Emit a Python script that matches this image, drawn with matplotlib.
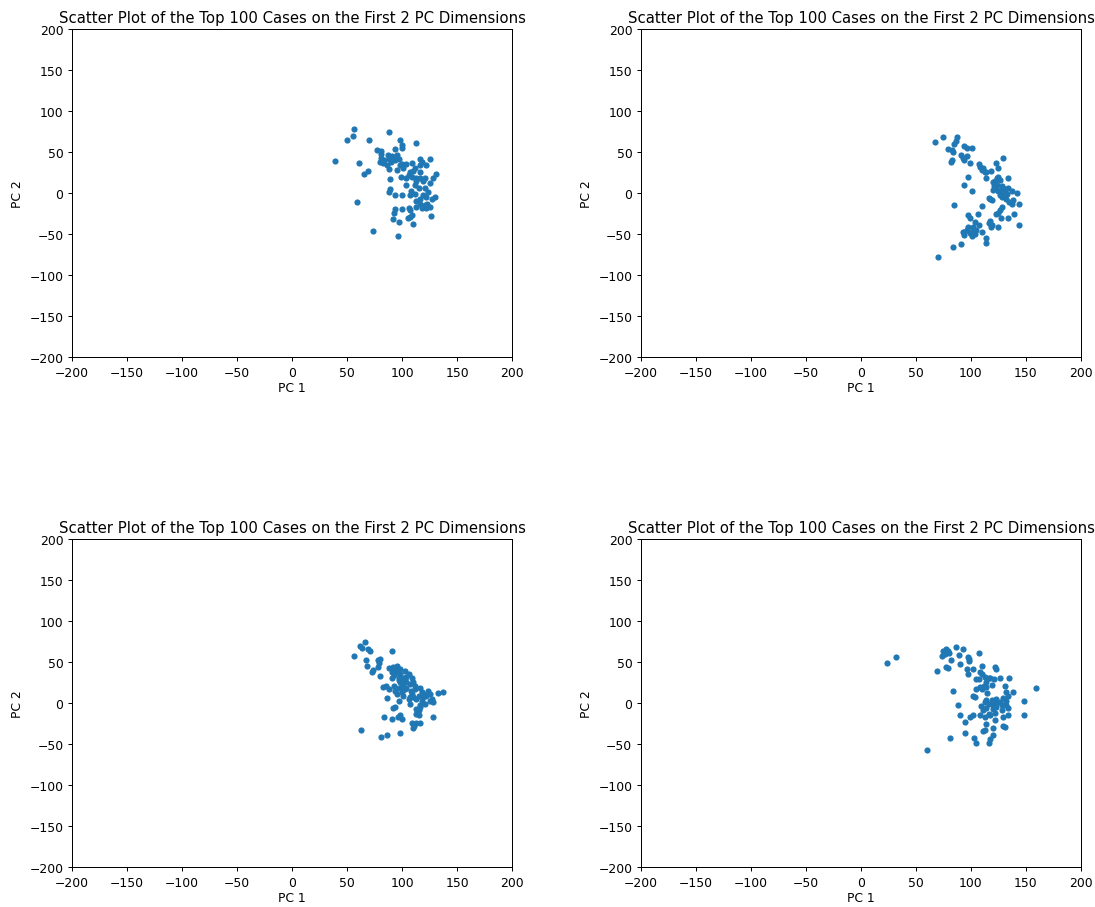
import matplotlib
import matplotlib.pyplot as plt

matplotlib.use("Agg")

# PC1 / PC2 coordinates of the top 100 cases, one pair of lists per run
pc1_a = [56, 55, 50, 70, 88, 98, 113, 100, 100, 94, 77, 81, 81, 39, 61, 69, 65,
         87, 91, 95, 81, 88, 92, 97, 80, 83, 90, 94, 100, 104, 109, 116, 118, 125,
         122, 116, 112, 107, 110, 116, 88, 95, 99, 89, 106, 109, 113, 116, 131, 128,
         125, 89, 88, 94, 100, 104, 108, 112, 115, 121, 124, 119, 122, 130, 107, 113,
         116, 118, 121, 123, 125, 59, 100, 107, 106, 94, 93, 92, 97, 105, 107, 110,
         126, 74, 96, 90, 84, 101, 113, 119, 127, 113, 116, 86, 112, 122, 109, 98,
         104, 121]
pc2_a = [78, 70, 65, 65, 74, 65, 61, 59, 55, 54, 52, 51, 48, 39, 36, 27, 23,
         46, 45, 46, 43, 42, 41, 42, 38, 36, 38, 40, 35, 35, 37, 41, 38, 42,
         34, 34, 30, 26, 27, 26, 29, 28, 20, 17, 22, 20, 18, 18, 23, 18,
         12, 5, 1, -2, -3, 10, 3, 10, 6, 6, 1, -3, -5, -5, -3, -10,
         -13, -18, -15, -14, -17, -11, -19, -21, -18, -20, -24, -32, -36, -31, -29, -38,
         -28, -46, -52, 43, 40, 30, 14, 14, -7, -17, -7, 34, -1, -18, -27, 34,
         18, 18]

pc1_b = [67, 75, 87, 86, 85, 79, 83, 84, 94, 96, 101, 83, 82, 91, 93, 96, 94,
         99, 107, 108, 113, 118, 123, 125, 129, 97, 94, 101, 114, 125, 126, 134, 122,
         123, 128, 120, 125, 131, 134, 129, 133, 128, 137, 142, 116, 119, 138, 137, 144,
         85, 110, 128, 126, 125, 123, 97, 99, 106, 127, 134, 139, 117, 119, 125, 144,
         104, 107, 102, 97, 96, 93, 94, 99, 102, 104, 110, 101, 116, 114, 114, 91,
         84, 70, 118, 120, 122, 124, 129, 126, 121, 135, 105, 94, 114, 110, 124, 126,
         132, 117, 111]
pc2_b = [62, 68, 68, 63, 60, 54, 53, 50, 57, 55, 55, 40, 38, 46, 43, 45, 40,
         36, 35, 32, 26, 27, 37, 31, 43, 20, 10, 2, 18, 20, 16, 18, 10,
         6, 9, 4, 2, 4, 6, -2, -1, -5, 2, 0, -6, -9, -9, -13, -14,
         -15, -16, -17, -21, -25, -26, -27, -31, -26, -30, -31, -26, -34, -39, -41, -39,
         -35, -39, -41, -41, -45, -47, -51, -49, -46, -50, -47, -53, -37, -55, -61, -62,
         -66, -78, -41, 13, 15, 10, 6, -3, 9, -11, -45, -47, 26, 28, 18, 2,
         -7, -7, 30]

pc1_c = [66, 62, 64, 69, 71, 56, 91, 67, 68, 78, 79, 78, 74, 73, 80, 88, 92,
         95, 94, 95, 93, 97, 98, 103, 106, 104, 109, 110, 107, 101, 100, 97, 94,
         104, 103, 108, 112, 116, 118, 124, 125, 122, 119, 127, 128, 133, 137, 85, 83,
         86, 107, 110, 113, 118, 121, 116, 115, 113, 113, 94, 92, 97, 98, 96, 100,
         91, 84, 109, 113, 116, 111, 110, 128, 63, 81, 86, 98, 100, 101, 95, 104,
         112, 98, 91, 106, 119, 115, 88, 125, 102, 98, 107, 115, 116, 101, 91, 97,
         93, 109, 80]
pc2_c = [74, 69, 67, 66, 64, 57, 63, 52, 45, 52, 49, 44, 40, 38, 33, 43, 44,
         45, 40, 38, 34, 30, 35, 39, 36, 32, 30, 26, 23, 26, 21, 18, 15,
         18, 17, 15, 17, 18, 13, 15, 11, 9, 7, 5, 1, 12, 13, 21, 19,
         6, 7, 7, 5, 3, -1, -3, -9, -13, -7, -5, -6, 2, -15, -17, -19,
         -20, -17, -24, -24, -24, -28, -31, -17, -33, -41, -39, -36, 13, 9, 11, 26,
         21, 42, 38, 5, 11, 9, 17, 2, 30, 26, -1, -15, -5, 19, 30, 28,
         21, 11, 54]

pc1_d = [24, 32, 60, 75, 77, 79, 76, 74, 80, 86, 93, 89, 82, 77, 79, 69, 90,
         97, 98, 98, 107, 102, 110, 108, 110, 97, 105, 113, 116, 122, 123, 126, 121,
         117, 114, 112, 108, 110, 105, 114, 119, 135, 131, 132, 138, 134, 159, 148, 148,
         84, 102, 104, 88, 109, 114, 119, 116, 111, 114, 120, 123, 123, 126, 129, 132,
         132, 134, 128, 120, 116, 117, 134, 129, 90, 99, 95, 114, 122, 120, 113, 111,
         129, 131, 120, 95, 103, 105, 117, 116, 81, 122, 113, 108, 107, 115, 123, 128,
         96, 102, 113]
pc2_d = [49, 56, -57, 64, 66, 63, 60, 57, 61, 68, 66, 58, 52, 44, 43, 39, 47,
         56, 51, 54, 61, 42, 45, 38, 35, 35, 29, 32, 30, 44, 41, 30, 29,
         30, 26, 21, 19, 17, 17, 19, 22, 30, 21, 13, 13, 9, 18, 2, -15,
         15, 8, 7, -2, -4, 4, 4, -1, -9, -6, -3, -1, -5, 1, 6, 2,
         -3, -6, -9, -7, -13, -15, -14, -17, -15, -17, -23, -26, -21, -30, -33, -34,
         -28, -29, -39, -37, -43, -49, -44, -49, -43, -12, -17, -15, 29, 12, 5, -3,
         42, -15, 1]

runs = [(pc1_a, pc2_a), (pc1_b, pc2_b), (pc1_c, pc2_c), (pc1_d, pc2_d)]

DPI = 89


def main():
    # the reference looks like a default-style figure rendered at a low dpi
    fig, axes = plt.subplots(2, 2, figsize=(1095 / DPI, 908 / DPI), dpi=DPI)
    fig.subplots_adjust(left=0.0658, right=0.9872, top=0.967, bottom=0.044,
                        wspace=0.293, hspace=0.555)

    for ax, (x, y) in zip(axes.flat, runs):
        ax.scatter(x, y, s=16, color="#1f77b4")
        ax.set_xlim(-200, 200)
        ax.set_ylim(-200, 200)
        ax.set_title("Scatter Plot of the Top 100 Cases on the First 2 PC Dimensions")
        ax.set_xlabel("PC 1", labelpad=2)
        ax.set_ylabel("PC 2")

    fig.savefig("out.png", dpi=DPI)
    plt.close(fig)


if __name__ == "__main__":
    main()
